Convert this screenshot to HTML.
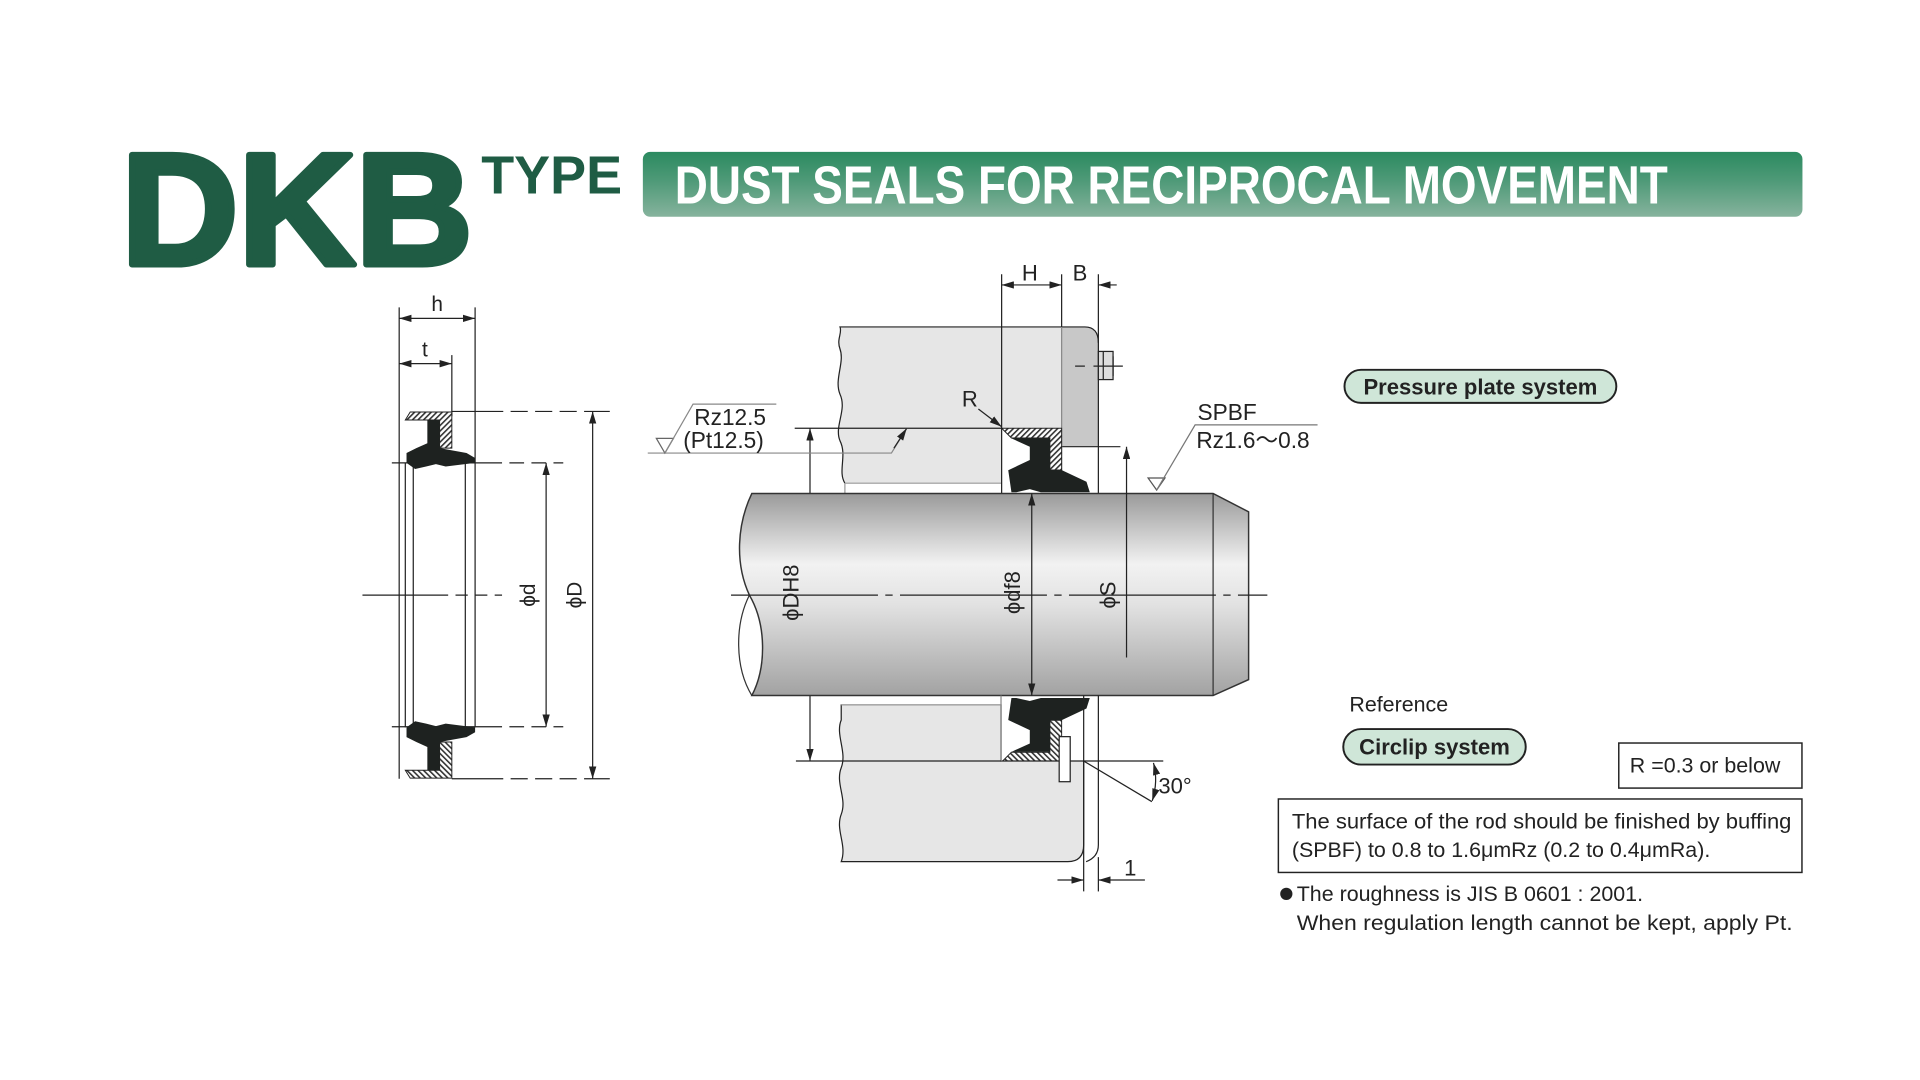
<!DOCTYPE html>
<html><head><meta charset="utf-8"><style>
html,body{margin:0;padding:0;background:#fff;}
svg{display:block;}
text{font-family:"Liberation Sans",Arial,sans-serif;}
</style></head><body>
<svg width="1920" height="1080" viewBox="0 0 1568 882" xmlns="http://www.w3.org/2000/svg">
<defs>
<linearGradient id="ban" x1="0" y1="0" x2="0" y2="1">
<stop offset="0" stop-color="#2b8a60"/><stop offset="0.45" stop-color="#4f9a78"/><stop offset="1" stop-color="#86b39d"/>
</linearGradient>
<linearGradient id="rod" x1="0" y1="0" x2="0" y2="1">
<stop offset="0" stop-color="#9a9a9a"/><stop offset="0.35" stop-color="#f2f2f2"/><stop offset="0.55" stop-color="#e2e2e2"/><stop offset="1" stop-color="#a2a2a2"/>
</linearGradient>
<pattern id="hat" width="3.2" height="3.2" patternUnits="userSpaceOnUse" patternTransform="rotate(45)">
<rect width="3.2" height="3.2" fill="#fff"/><rect width="1.3" height="3.2" fill="#333"/>
</pattern>
<marker id="ar" viewBox="0 0 10 6" refX="10" refY="3" markerWidth="10" markerHeight="6" orient="auto-start-reverse" markerUnits="userSpaceOnUse">
<path d="M0,0 L10,3 L0,6 Z" fill="#222"/></marker>
</defs>

<!-- Header -->
<text x="99" y="216" font-size="130" font-weight="bold" fill="#1f5c44" stroke="#1f5c44" stroke-width="5" stroke-linejoin="round" textLength="287" lengthAdjust="spacingAndGlyphs">DKB</text>
<text x="393" y="158" font-size="44" font-weight="bold" fill="#1f5c44" textLength="115" lengthAdjust="spacingAndGlyphs">TYPE</text>
<rect x="525" y="124" width="947" height="53" rx="6" fill="url(#ban)"/>
<text x="551" y="166" font-size="44" font-weight="bold" fill="#fff" textLength="811" lengthAdjust="spacingAndGlyphs">DUST SEALS FOR RECIPROCAL MOVEMENT</text>

<g stroke="#222" stroke-width="1" fill="none">
<!-- LEFT SEAL -->
<line x1="326" y1="251" x2="326" y2="636"/>
<line x1="388" y1="251" x2="388" y2="378"/>
<line x1="369" y1="290" x2="369" y2="340"/>
<line x1="326" y1="260" x2="388" y2="260" marker-start="url(#ar)" marker-end="url(#ar)"/>
<line x1="326" y1="297" x2="369" y2="297" marker-start="url(#ar)" marker-end="url(#ar)"/>
<line x1="331" y1="378" x2="331" y2="594"/>
<line x1="337.5" y1="378" x2="337.5" y2="594"/>
<line x1="380" y1="378" x2="380" y2="594"/>
<line x1="388" y1="378" x2="388" y2="594"/>
<line x1="369" y1="336" x2="498" y2="336" stroke-dasharray="42 6 14 6 14 6 14 6"/>
<line x1="369" y1="636" x2="498" y2="636" stroke-dasharray="42 6 14 6 14 6 14 6"/>
<line x1="320" y1="378" x2="460" y2="378" stroke-dasharray="90 6 12 6 12 6"/>
<line x1="320" y1="593.5" x2="460" y2="593.5" stroke-dasharray="90 6 12 6 12 6"/>
<line x1="296" y1="486" x2="410" y2="486" stroke-dasharray="70 6 10 6 10 6"/>
<line x1="446" y1="378" x2="446" y2="593.5" marker-start="url(#ar)" marker-end="url(#ar)"/>
<line x1="484" y1="336" x2="484" y2="636" marker-start="url(#ar)" marker-end="url(#ar)"/>
</g>
<text x="357" y="254" font-size="17" text-anchor="middle" fill="#222">h</text>
<text x="347" y="291" font-size="17" text-anchor="middle" fill="#222">t</text>
<g id="lseal">
<path d="M331,343 L335,336.5 L369,336.5 L369,366 L359,366 L359,343 Z" fill="url(#hat)" stroke="#222" stroke-width="0.8"/>
<path d="M349,343 L359,343 L359,366 L381,370 L388,374 L388,378 L364,381 L356,379 L348,381 L339,383 L332,378 L332,370 L340,366 L349,362 Z" fill="#1e2220"/>
</g>
<use href="#lseal" transform="translate(0,972) scale(1,-1)"/>
<text transform="translate(437,486) rotate(-90)" font-size="17" text-anchor="middle" fill="#222">ϕd</text>
<text transform="translate(475,486) rotate(-90)" font-size="17" text-anchor="middle" fill="#222">ϕD</text>

<!-- CENTER DRAWING -->
<path d="M686,267 H818 V394.6 H690 C684,385 692,372 686,360 C681,348 692,335 686,322 C681,310 690,296 686,285 C683,277 688,272 686,267 Z" fill="#e6e6e6" stroke="none"/>
<rect x="818" y="267" width="49" height="82.7" fill="#e6e6e6"/>
<path d="M867,267 H886 Q897,267 897,280 V364.8 H867 Z" fill="#c8c8c8"/>
<g stroke="#222" stroke-width="1" fill="none">
<path d="M690,394.6 C684,385 692,372 686,360 C681,348 692,335 686,322 C681,310 690,296 686,285 C683,277 688,272 686,267 H886 Q897,267 897,280"/>
<line x1="690" y1="394.6" x2="818" y2="394.6" stroke="#999"/>
<line x1="690" y1="394.6" x2="690" y2="403" stroke="#999"/>
<line x1="867" y1="364.8" x2="915" y2="364.8"/>
<line x1="867" y1="267" x2="867" y2="400" stroke="#888"/>
<line x1="818" y1="224" x2="818" y2="403"/>
<line x1="867" y1="224" x2="867" y2="267"/>
<line x1="897" y1="224" x2="897" y2="403"/>
<line x1="818" y1="232.7" x2="867" y2="232.7" marker-start="url(#ar)" marker-end="url(#ar)"/>
<line x1="912" y1="232.7" x2="897" y2="232.7" marker-end="url(#ar)"/>
<rect x="897" y="287" width="12" height="23" fill="#ddd"/>
<line x1="901" y1="287" x2="901" y2="310"/>
<line x1="878" y1="299" x2="886" y2="299"/>
<line x1="893" y1="299" x2="917" y2="299"/>
<line x1="909" y1="291" x2="909" y2="307"/>
</g>
<text x="841" y="229" font-size="18" text-anchor="middle" fill="#222">H</text>
<text x="882" y="229" font-size="18" text-anchor="middle" fill="#222">B</text>
<text x="792" y="332" font-size="18" text-anchor="middle" fill="#222">R</text>
<line x1="799" y1="334" x2="818" y2="348.5" stroke="#222" stroke-width="1" marker-end="url(#ar)"/>

<g stroke="#222" stroke-width="1" fill="none">
<line x1="649" y1="349.7" x2="818" y2="349.7"/>
<line x1="661.5" y1="621.5" x2="661.5" y2="349.7" marker-start="url(#ar)" marker-end="url(#ar)"/>
<polyline points="529,370 728,370 740.5,349.8" stroke="#888"/>
<line x1="730" y1="366" x2="740.5" y2="349.8" marker-end="url(#ar)"/>
<path d="M536,358 L550,358 L543,370 Z" stroke="#666"/>
<polyline points="543,370 566,330 634,330" stroke="#888"/>
</g>
<text x="567" y="347" font-size="18.5" fill="#222">Rz12.5</text>
<text x="558" y="366" font-size="18.5" fill="#222">(Pt12.5)</text>

<path d="M614,403 H990.7 L1019.7,418 V555 L990.7,568 H614 C626,545 626,510 612,486 C600,460 602,428 614,403 Z" fill="url(#rod)" stroke="#333" stroke-width="1.2"/>
<path d="M612,486 C600,510 600,545 614,568" fill="none" stroke="#333" stroke-width="1"/>
<line x1="990.7" y1="403" x2="990.7" y2="568" stroke="#333" stroke-width="1"/>
<line x1="597" y1="486" x2="1035" y2="486" stroke="#222" stroke-width="1" stroke-dasharray="120 6 6 6"/>
<line x1="842.6" y1="403" x2="842.6" y2="568" stroke="#222" stroke-width="1" marker-start="url(#ar)" marker-end="url(#ar)"/>
<line x1="920" y1="537" x2="920" y2="364.8" stroke="#222" stroke-width="1" marker-end="url(#ar)"/>
<text transform="translate(652,484) rotate(-90)" font-size="18" text-anchor="middle" fill="#222">ϕDH8</text>
<text transform="translate(833,484) rotate(-90)" font-size="18" text-anchor="middle" fill="#222">ϕdf8</text>
<text transform="translate(911,486) rotate(-90)" font-size="18" text-anchor="middle" fill="#222">ϕS</text>

<g id="cseal">
<path d="M818,349.7 H867 V383.8 H857.4 V357.7 H826 Z" fill="url(#hat)" stroke="#222" stroke-width="0.8"/>
<path d="M826,358 L857.4,358 L857.4,383.8 L866.9,383.8 L887.3,393.4 L890,402 L850,402 L841,399.5 L830,402 L826,402 L823.4,384 L841,375.7 L841,364.8 Z" fill="#1e2220"/>
</g>
<use href="#cseal" transform="translate(0,972) scale(1,-1)"/>

<path d="M687,575.7 H817.5 V621.5 H885 V690 Q885,703.7 872,703.7 H687 C692,690 682,678 687,665 C692,652 682,640 687,627 C692,614 682,600 687,588 Z" fill="#e6e6e6" stroke="#222" stroke-width="1"/>
<line x1="687" y1="575.7" x2="817.5" y2="575.7" stroke="#999"/>
<line x1="817.5" y1="568" x2="817.5" y2="621.5" stroke="#888"/>
<line x1="885" y1="568" x2="885" y2="728" stroke="#222" stroke-width="1"/>
<path d="M897,568 V690 Q897,700 887,703.7" fill="none" stroke="#222" stroke-width="1"/>
<line x1="897" y1="700" x2="897" y2="728" stroke="#222" stroke-width="1"/>
<rect x="865" y="601.6" width="9" height="36.8" fill="#fff" stroke="#222" stroke-width="1"/>
<line x1="650" y1="621.5" x2="817.5" y2="621.5" stroke="#222"/>
<line x1="885" y1="621.5" x2="950" y2="621.5" stroke="#222"/>
<line x1="885" y1="621.5" x2="940.7" y2="654.7" stroke="#222"/>
<path d="M942,623 Q946,638 941,654" fill="none" stroke="#222" marker-start="url(#ar)" marker-end="url(#ar)"/>
<text x="946" y="648" font-size="18" fill="#222">30°</text>
<line x1="863.6" y1="718.7" x2="885" y2="718.7" stroke="#222" marker-end="url(#ar)"/>
<line x1="935" y1="718.7" x2="897" y2="718.7" stroke="#222" marker-end="url(#ar)"/>
<text x="918" y="715" font-size="18" fill="#222">1</text>

<g stroke="#222" stroke-width="1" fill="none">
<path d="M937.6,390.4 L951.4,390.4 L944.6,400.2 Z" stroke="#555"/>
<polyline points="944.6,400.2 976,347 1076,347" stroke="#777"/>
</g>
<text x="978" y="343" font-size="18.5" fill="#222">SPBF</text>
<text x="977" y="366" font-size="18.5" fill="#222">Rz1.6〜0.8</text>

<rect x="1098" y="302" width="222" height="27" rx="13.5" fill="#cfe6d8" stroke="#222" stroke-width="1.6"/>
<text x="1209" y="322" font-size="18" font-weight="bold" text-anchor="middle" fill="#222">Pressure plate system</text>
<text x="1102" y="581" font-size="17.5" fill="#222">Reference</text>
<rect x="1097" y="595.4" width="149" height="29" rx="14.5" fill="#cfe6d8" stroke="#222" stroke-width="1.6"/>
<text x="1171.5" y="616" font-size="18" font-weight="bold" text-anchor="middle" fill="#222">Circlip system</text>
<rect x="1322" y="606.8" width="149.6" height="36.8" fill="#fff" stroke="#222" stroke-width="1.2"/>
<text x="1331" y="631" font-size="17.5" fill="#222">R =0.3 or below</text>
<rect x="1044" y="652.5" width="427.6" height="60" fill="#fff" stroke="#222" stroke-width="1.2"/>
<text x="1055" y="676.7" font-size="17.5" fill="#222" textLength="408" lengthAdjust="spacingAndGlyphs">The surface of the rod should be finished by buffing</text>
<text x="1055" y="700" font-size="17.5" fill="#222">(SPBF) to 0.8 to 1.6μmRz (0.2 to 0.4μmRa).</text>
<circle cx="1050.5" cy="730" r="5" fill="#222"/>
<text x="1059" y="736" font-size="17.5" fill="#222">The roughness is JIS B 0601 : 2001.</text>
<text x="1059" y="759.6" font-size="17.5" fill="#222" textLength="405" lengthAdjust="spacingAndGlyphs">When regulation length cannot be kept, apply Pt.</text>
</svg>
</body></html>
